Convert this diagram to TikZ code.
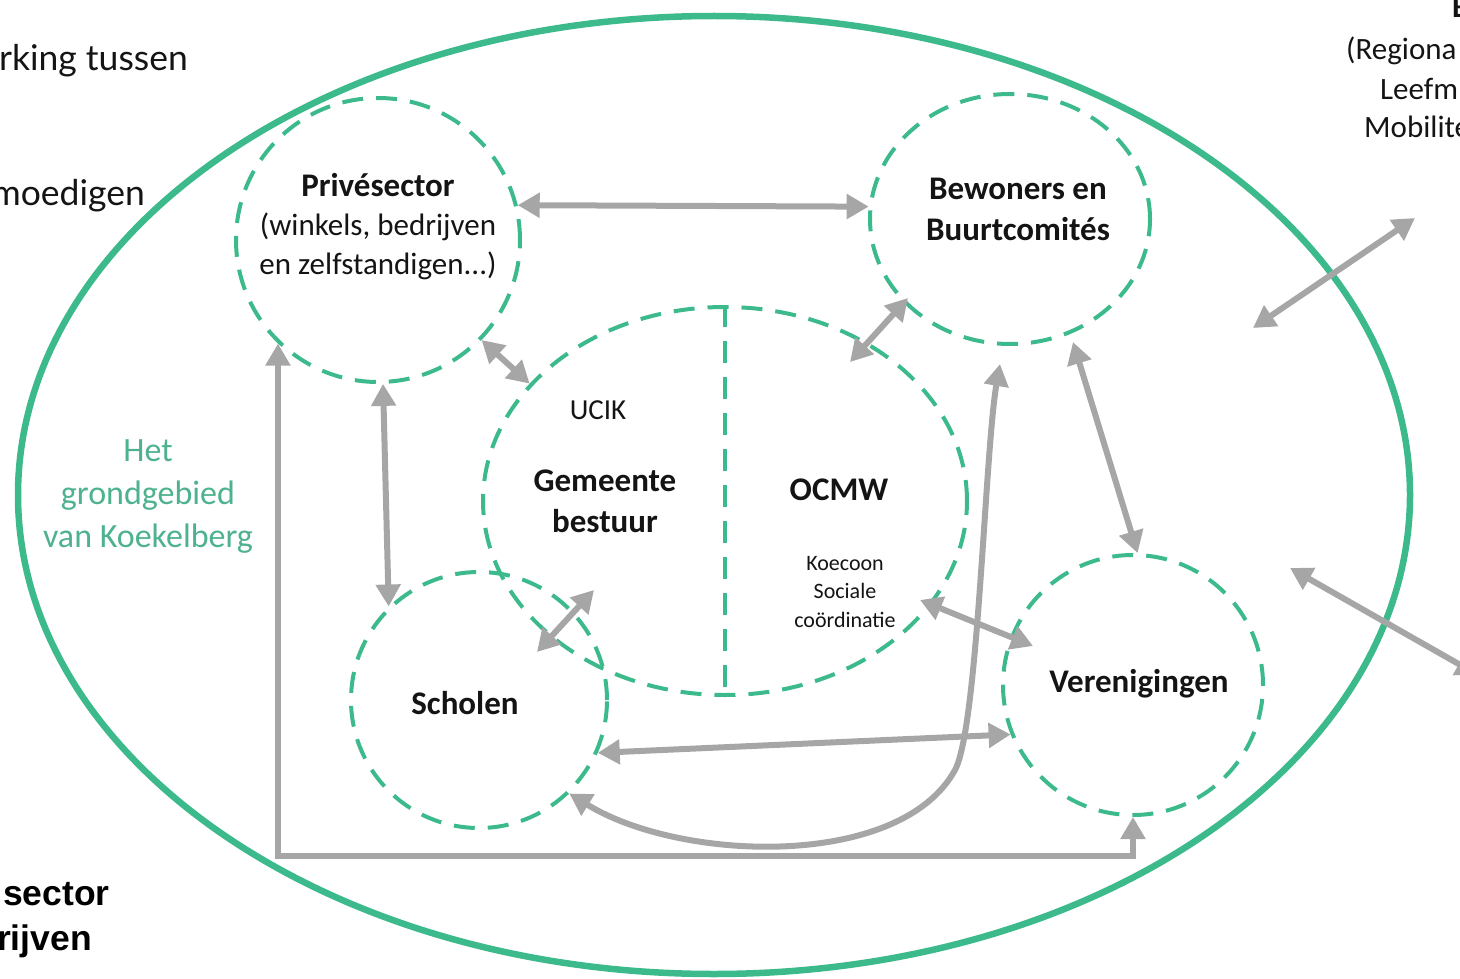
\documentclass[tikz,border=0pt]{standalone}
\usepackage{fontspec}
\setmainfont{Carlito}
\newfontfamily\edgefont{Lato}
\newfontfamily\arialfont{Liberation Sans}
\usetikzlibrary{arrows.meta,calc,shapes.geometric}
\definecolor{teal1}{RGB}{61,186,140}
\definecolor{arrgray}{RGB}{166,166,166}
\definecolor{tealtxt}{RGB}{78,178,142}
\definecolor{txt}{RGB}{20,20,20}
\begin{document}
\begin{tikzpicture}[x=1pt,y=-1pt,
  outerline/.style={draw=teal1,line width=6.5pt},
  dcirc/.style={ellipse,draw=teal1,line width=4pt,dash pattern=on 21pt off 13pt,inner sep=0pt},
  dline/.style={draw=teal1,line width=4pt,dash pattern=on 22pt off 14pt},
  garr/.style={draw=arrgray,line width=6pt,{Triangle[length=22pt,width=24pt]}-{Triangle[length=22pt,width=24pt]}},
  lbl/.style={text=txt,font=\fontsize{33}{41}\selectfont\bfseries,align=center,inner sep=0pt},
  sub/.style={text=txt,font=\fontsize{31}{39}\selectfont,align=center,inner sep=0pt},
  small/.style={text=txt,font=\fontsize{22}{28.5}\selectfont,align=center,inner sep=0pt},
  terr/.style={text=tealtxt,font=\fontsize{34}{43}\selectfont,align=center,inner sep=0pt},
  edgetxt/.style={text=txt,font=\edgefont\fontsize{35.5}{42}\selectfont,inner sep=0pt},
  edgebold/.style={text=black,font=\arialfont\bfseries\fontsize{35.5}{44}\selectfont,inner sep=0pt},
  edgeright/.style={text=txt,font=\fontsize{31}{39}\selectfont,inner sep=0pt}
]
\useasboundingbox (0,0) rectangle (1460,979);
\clip (0,0) rectangle (1460,979);

% outer territory
\draw[outerline] (714,495) ellipse [x radius=696, y radius=479];

% dashed groups
\node[dcirc,minimum width=284pt,minimum height=284pt] (priv) at (378,240) {};
\node[dcirc,minimum width=280pt,minimum height=250pt] (bew) at (1010,219) {};
\node[dcirc,minimum width=484pt,minimum height=388pt] (gem) at (725,501) {};
\node[dcirc,minimum width=256pt,minimum height=256pt] (sch) at (479,700) {};
\node[dcirc,minimum width=260pt,minimum height=260pt] (ver) at (1133,685) {};
\draw[dline] (gem.north) -- (gem.south);

% labels
\node[sub] (privt) at (378,227) {{\bfseries\fontsize{33}{39}\selectfont Privésector}\\(winkels, bedrijven\\en zelfstandigen...)};
\node[lbl] (bewt) at (1018,209) {Bewoners en\\Buurtcomités};
\node[sub,font=\fontsize{29}{35}\selectfont] (ucik) at (598,410) {UCIK};
\node[lbl] (gemt) at (605,501) {Gemeente\\bestuur};
\node[lbl] (ocmw) at (839,490) {OCMW};
\node[small] (koe) at (845,592) {Koecoon\\Sociale\\coördinatie};
\node[lbl] (scht) at (465,703) {Scholen};
\node[lbl] (vert) at (1139,684) {Verenigingen};
\node[terr] (terrt) at (148,497) {Het\\grondgebied\\van Koekelberg};

% edge texts (cut by the picture border, as in the reference)
\node[edgetxt,anchor=base east] (e1) at (188,71) {rking tussen};
\node[edgetxt,anchor=base east] (e2) at (145,205) {moedigen};
\node[edgebold,anchor=base east] (e3) at (110,905) {sector};
\node[edgebold,anchor=base east] (e4) at (92,950) {rijven};
\node[edgeright,font=\bfseries\fontsize{31}{39}\selectfont,anchor=base west] (e5) at (1452,18) {B};
\node[edgeright,anchor=base west] (e6) at (1346,60) {(Regiona};
\node[edgeright,anchor=base west] (e7) at (1380,100) {Leefm};
\node[edgeright,anchor=base west] (e8) at (1364,138) {Mobilite};

% connectors
\draw[garr] (priv.14) -- (bew.175);
\draw[garr] (priv.-44) -- (gem.149);
\draw[garr] (priv.-88) -- (sch.134);
\draw[garr] ($(sch.center)+(58,-48)$) -- ($(gem.center)+(-131,89)$);
\draw[garr] ($(gem.center)+(125,-139)$) -- ($(bew.center)+(-102,79)$);
\draw[garr] ($(bew.center)+(63,123)$) -- (ver.88);
\draw[garr] ($(gem.center)+(195,99)$) -- ($(ver.center)+(-100,-39)$);
\draw[garr] (sch.-24) -- (ver.202);
\draw[garr] (sch.-46) .. controls (680,862) and (900,870) .. (955,770)
  .. controls (978,728) and (985,450) .. ($(bew.south)+(-10,18)$);
\draw[garr] (priv.226) -- ++(0,512) -| (ver.south);

\coordinate (k1) at (1253,328);
\coordinate (k2) at (1415,218);
\draw[garr] (k1) -- (k2);
\coordinate (l1) at (1290,568);
\coordinate (l2) at (1478,675);
\draw[garr] (l1) -- (l2);
\end{tikzpicture}
\end{document}
